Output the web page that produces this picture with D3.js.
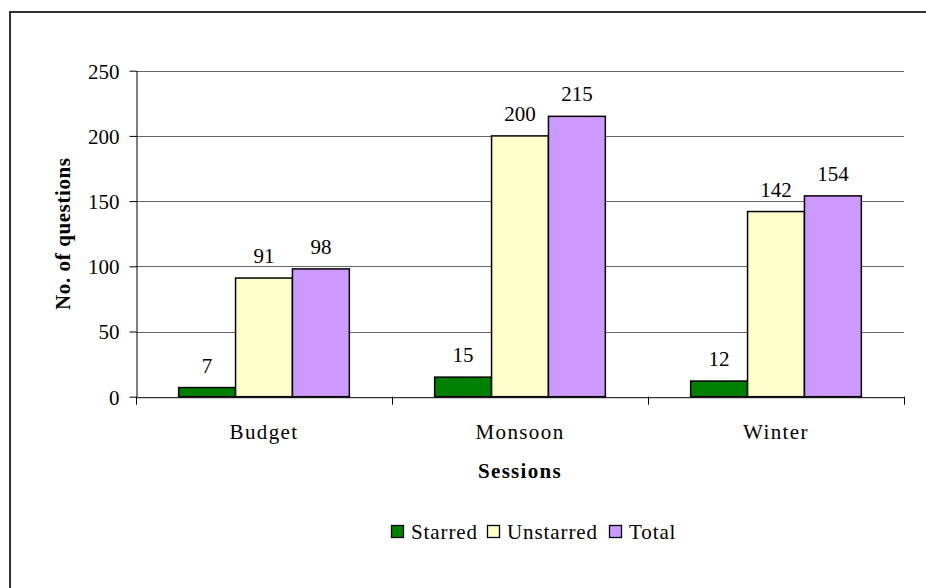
<!DOCTYPE html>
<html><head><meta charset="utf-8">
<script src="https://cdn.jsdelivr.net/npm/d3@7"></script>
<style>body{margin:0;background:#fff}svg{display:block}svg text{font-family:'Liberation Serif','Tinos','Times New Roman','DejaVu Serif',serif !important}</style>
</head><body><svg id="c" width="926" height="588"></svg>
<script>
const categories = ["Budget","Monsoon","Winter"];
const seriesNames = ["Starred","Unstarred","Total"];
const starred = [7,15,12];
const unstarred = [91,200,142];
const total = [98,215,154];
const yTicks = [0,50,100,150,200,250];
const colors = ["#008000","#ffffcc","#cc99ff"];
const seriesVals = [starred, unstarred, total];
const FONT = "'Liberation Serif','Tinos','Times New Roman','DejaVu Serif',serif";

const svg = d3.select("#c").attr("font-family",FONT);
svg.append("rect").attr("x",10).attr("y",12).attr("width",930).attr("height",600)
  .attr("fill","#fff").attr("stroke","#333").attr("stroke-width",2);

const L=136,R=904,T=70.7,B=396.7;
const y = d3.scaleLinear().domain([0,250]).range([B,T]);
const x0 = d3.scaleBand().domain(categories).range([L,R]).paddingInner(0).paddingOuter(0);
const bw = x0.bandwidth()/4.5;
const x1 = d3.scaleBand().domain(seriesNames).range([0,bw*3]);

// gridlines
svg.append("g").selectAll("line").data(yTicks.filter(d=>d>0)).join("line")
  .attr("x1",L).attr("x2",R).attr("y1",d=>Math.round(y(d))+0.5).attr("y2",d=>Math.round(y(d))+0.5)
  .attr("stroke","#666").attr("stroke-width",1);

// y axis
const ya = svg.append("g").attr("transform",`translate(${L+0.5},0)`)
  .call(d3.axisLeft(y).tickValues(yTicks).tickSize(7).tickSizeOuter(0));
ya.attr("font-family",FONT);
ya.select(".domain").attr("stroke","#000");
ya.selectAll(".tick line").attr("stroke","#000");
ya.selectAll(".tick text").attr("font-size",21).attr("fill","#000").attr("x",-17).attr("dy","0.35em");

// bars
const g = svg.append("g");
categories.forEach((c,i)=>{
  seriesNames.forEach((s,j)=>{
    const v = seriesVals[j][i];
    const xx = x0(c) + bw*0.75 + x1(s);
    g.append("rect").attr("x",xx).attr("y",y(v)).attr("width",x1.bandwidth()).attr("height",B-y(v))
      .attr("fill",colors[j]).attr("stroke","#000").attr("stroke-width",1.5);
    g.append("text").attr("x",xx+x1.bandwidth()/2).attr("y",y(v)-15).attr("text-anchor","middle")
      .attr("font-size",21).attr("fill","#000").text(v);
  });
});

// x axis
const xa = svg.append("g").attr("transform",`translate(0,${B+0.5})`)
  .call(d3.axisBottom(x0).tickSize(0).tickSizeOuter(0));
xa.attr("font-family",FONT);
xa.select(".domain").attr("stroke","#000");
xa.selectAll(".tick text").attr("font-size",21).attr("fill","#000").attr("dy","0").attr("y",42)
  .attr("letter-spacing","1.4px");
const bounds = [L, ...categories.map(c=>x0(c)+x0.bandwidth())];
svg.append("g").selectAll("line").data(bounds).join("line")
  .attr("x1",d=>Math.round(d)+0.5).attr("x2",d=>Math.round(d)+0.5).attr("y1",B).attr("y2",B+8)
  .attr("stroke","#000");

// axis titles
svg.append("text").attr("x",(L+R)/2).attr("y",478).attr("text-anchor","middle")
  .attr("font-size",21).attr("font-weight","bold").attr("letter-spacing","1.3px").text("Sessions");
svg.append("text").attr("transform",`translate(70,${(T+B)/2}) rotate(-90)`).attr("text-anchor","middle")
  .attr("font-size",21).attr("font-weight","bold").attr("letter-spacing","0.6px").text("No. of questions");

// legend
const lg = svg.append("g");
const legendX = [391, 487, 609];
seriesNames.forEach((s,j)=>{
  lg.append("rect").attr("x",legendX[j]+0.5).attr("y",525.5).attr("width",12).attr("height",12)
    .attr("fill",colors[j]).attr("stroke","#000").attr("stroke-width",1.3);
  lg.append("text").attr("x",legendX[j]+20).attr("y",539).attr("font-size",21)
    .attr("letter-spacing","0.9px").text(s);
});
</script></body></html>
